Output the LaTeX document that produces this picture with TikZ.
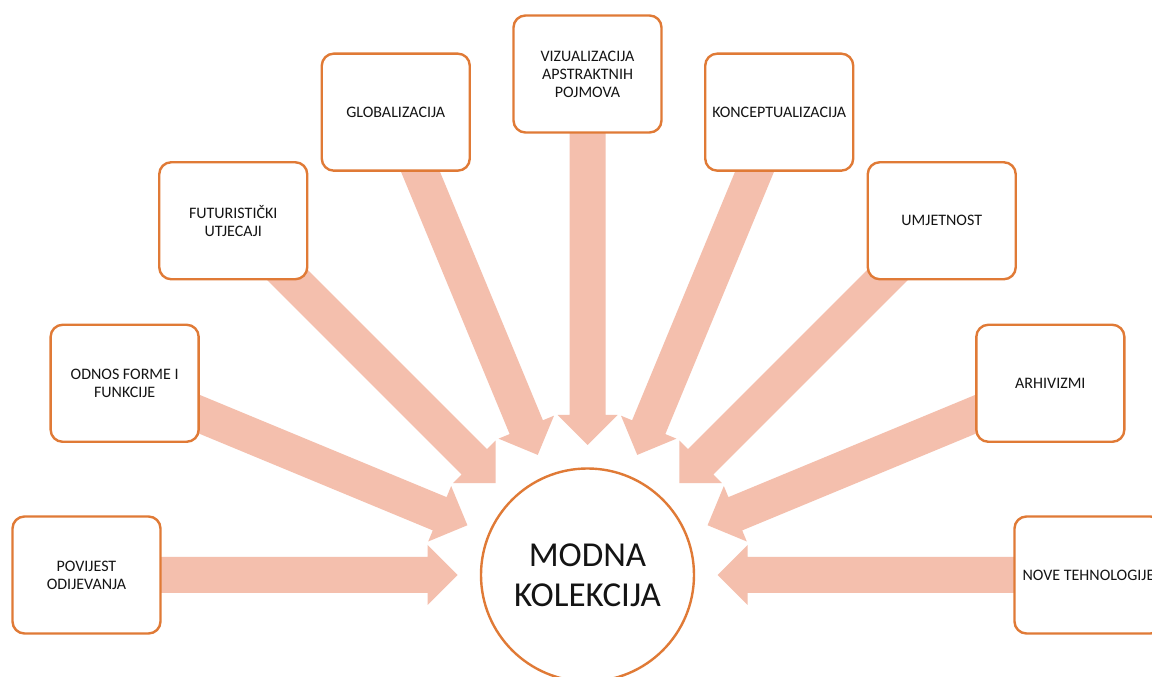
\documentclass[tikz,border=0pt]{standalone}
\usepackage{fontspec}
\setmainfont{Carlito}
\usetikzlibrary{calc,backgrounds}
\definecolor{borderor}{RGB}{224,122,54}
\definecolor{arrowfill}{RGB}{244,191,173}
\definecolor{txt}{RGB}{20,20,20}
\newcommand\blkarrow[2]{%
  \coordinate (ba-t) at ($(#2.center)!130pt!(#1.center)$);
  \coordinate (ba-h) at ($(#2.center)!160pt!(#1.center)$);
  \fill[arrowfill] (ba-t) -- ($(ba-h)!30pt!90:(#1.center)$) -- ($(ba-h)!18pt!90:(#1.center)$)
    -- ($(#1.center)!18pt!-90:(#2.center)$) -- ($(#1.center)!18pt!90:(#2.center)$)
    -- ($(ba-h)!18pt!-90:(#1.center)$) -- ($(ba-h)!30pt!-90:(#1.center)$) -- cycle;}
\begin{document}
\begin{tikzpicture}[x=1pt,y=1pt,
  boxnode/.style={draw=borderor, line width=2.4pt, fill=white, rounded corners=12pt,
    minimum width=148pt, minimum height=117pt, align=center, text=txt,
    font=\fontsize{16}{18}\selectfont, inner sep=1pt},
  hub/.style={circle, draw=borderor, line width=2.4pt, fill=white, minimum size=213pt,
    inner sep=0pt, align=center, text=txt, font=\fontsize{35}{40}\selectfont}]
\useasboundingbox (0,0) rectangle (1152,677);
\clip (0,0) rectangle (1152,677);
\node[hub] (m) at (587.5,102) {MODNA\\KOLEKCIJA};
\path (m.center) ++(180:501) node[boxnode] (b1) {POVIJEST\\ODIJEVANJA};
\path (m.center) ++(157.5:501) node[boxnode] (b2) {ODNOS FORME I\\FUNKCIJE};
\path (m.center) ++(135:501) node[boxnode] (b3) {FUTURISTIČKI\\UTJECAJI};
\path (m.center) ++(112.5:501) node[boxnode] (b4) {GLOBALIZACIJA};
\path (m.center) ++(90:501) node[boxnode] (b5) {VIZUALIZACIJA\\APSTRAKTNIH\\POJMOVA};
\path (m.center) ++(67.5:501) node[boxnode] (b6) {KONCEPTUALIZACIJA};
\path (m.center) ++(45:501) node[boxnode] (b7) {UMJETNOST};
\path (m.center) ++(22.5:501) node[boxnode] (b8) {ARHIVIZMI};
\path (m.center) ++(0:501) node[boxnode] (b9) {NOVE TEHNOLOGIJE};
\begin{pgfonlayer}{background}
  \fill[white] (0,0) rectangle (1152,677);
  \blkarrow{b1}{m}
  \blkarrow{b2}{m}
  \blkarrow{b3}{m}
  \blkarrow{b4}{m}
  \blkarrow{b5}{m}
  \blkarrow{b6}{m}
  \blkarrow{b7}{m}
  \blkarrow{b8}{m}
  \blkarrow{b9}{m}
\end{pgfonlayer}
\end{tikzpicture}
\end{document}
